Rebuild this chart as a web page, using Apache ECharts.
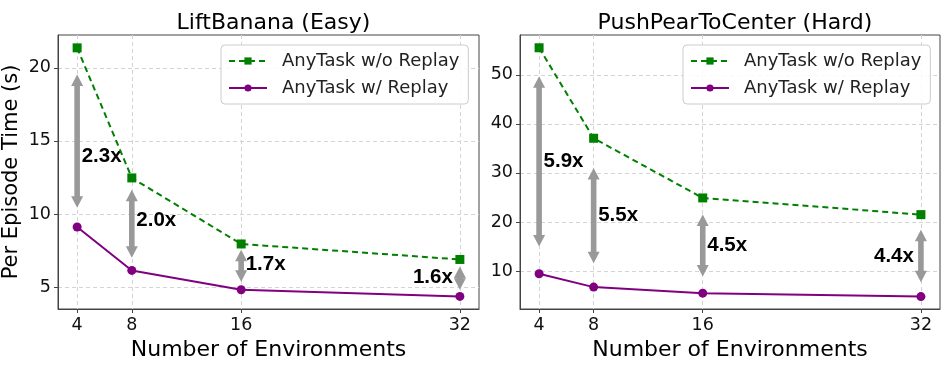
<!DOCTYPE html>
<html>
<head>
<meta charset="utf-8">
<script src="https://cdn.jsdelivr.net/npm/echarts@6/dist/echarts.min.js"></script>
<style>
  html, body { margin: 0; padding: 0; background: #fff; }
  #main { width: 947px; height: 372px; }
</style>
</head>
<body>
<div id="main"></div>
<script>
// x values
var envs = [4, 8, 16, 32];

// LiftBanana (Easy)
var easyNoReplay = [21.37, 12.47, 7.95, 6.89];
var easyReplay = [9.11, 6.14, 4.82, 4.36];
var easySpeedup = ['2.3x', '2.0x', '1.7x', '1.6x'];
var easyArrowTop = [19.54, 11.66, 7.56, 6.40];
var easyArrowBottom = [10.43, 7.01, 5.36, 4.82];
var easyLabelY = [13.92, 9.54, 6.53, 5.64];
var easyLabelSide = ['right', 'right', 'right', 'left'];

// PushPearToCenter (Hard)
var hardNoReplay = [55.5, 37.06, 24.9, 21.5];
var hardReplay = [9.45, 6.73, 5.5, 4.8];
var hardSpeedup = ['5.9x', '5.5x', '4.5x', '4.4x'];
var hardArrowTop = [49.7, 31.0, 21.5, 18.4];
var hardArrowBottom = [15.0, 11.6, 8.9, 7.7];
var hardLabelY = [32.4, 21.35, 15.3, 13.0];
var hardLabelSide = ['right', 'right', 'right', 'left'];

var easyTicks = [5, 10, 15, 20];
var hardTicks = [10, 20, 30, 40, 50];

var font = 'DejaVu Sans';
var nameNo = 'AnyTask w/o Replay';
var nameYes = 'AnyTask w/ Replay';

var myChart = echarts.init(document.getElementById('main'), null, { renderer: 'canvas' });

function pairs(ys) {
    var out = [];
    for (var i = 0; i < envs.length; i++) out.push([envs[i], ys[i]]);
    return out;
}

// gray double headed arrow + bold ratio text
function arrowSeries(idx, tops, bottoms, labels, labelY, sides) {
    var data = [];
    for (var i = 0; i < envs.length; i++) data.push([envs[i], tops[i], bottoms[i], labelY[i]]);
    return {
        type: 'custom',
        xAxisIndex: idx,
        yAxisIndex: idx,
        z: 1,
        silent: true,
        clip: false,
        data: data,
        renderItem: function(params, api) {
            var top = api.coord([api.value(0), api.value(1)]);
            var bot = api.coord([api.value(0), api.value(2)]);
            var ly = api.coord([api.value(0), api.value(3)])[1];
            var x = top[0], y1 = top[1], y2 = bot[1];
            var hw = 6, sw = 2.8, hl = 11.5;
            if (y2 - y1 < 2 * hl) hl = (y2 - y1) / 2;
            var pts = [
                [x, y1], [x + hw, y1 + hl], [x + sw, y1 + hl], [x + sw, y2 - hl],
                [x + hw, y2 - hl], [x, y2], [x - hw, y2 - hl], [x - sw, y2 - hl],
                [x - sw, y1 + hl], [x - hw, y1 + hl]
            ];
            var side = sides[params.dataIndex];
            return {
                type: 'group',
                children: [{
                    type: 'polygon',
                    shape: { points: pts },
                    style: { fill: '#999999' }
                }, {
                    type: 'text',
                    z2: 10,
                    style: {
                        text: labels[params.dataIndex],
                        x: side === 'right' ? x + 4.5 : x - 7,
                        y: ly,
                        align: side === 'right' ? 'left' : 'right',
                        verticalAlign: 'middle',
                        font: 'bold 20.5px "Liberation Sans", Arial, sans-serif',
                        fill: '#000'
                    }
                }]
            };
        }
    };
}

function xAxis(idx) {
    return {
        type: 'value',
        gridIndex: idx,
        min: 2.6,
        max: 33.4,
        name: 'Number of Environments',
        nameLocation: 'middle',
        nameGap: 27,
        nameTextStyle: { fontSize: 22, color: '#000', fontFamily: font },
        axisLine: { show: true, onZero: false, lineStyle: { color: '#444' } },
        axisTick: { show: true, customValues: envs, length: 4, lineStyle: { color: '#444' } },
        axisLabel: { customValues: envs, fontSize: 17.5, color: '#111', fontFamily: font, margin: 7 },
        splitLine: { show: true, lineStyle: { color: '#d4d4d4', type: [4, 3] } }
    };
}

function yAxis(idx, min, max, ticks, name) {
    return {
        type: 'value',
        gridIndex: idx,
        min: min,
        max: max,
        name: name,
        nameLocation: 'middle',
        nameGap: 36,
        nameTextStyle: { fontSize: 21, color: '#000', fontFamily: font },
        axisLine: { show: true, lineStyle: { color: '#444' } },
        axisTick: { show: true, customValues: ticks, length: 4, lineStyle: { color: '#444' } },
        axisLabel: { customValues: ticks, fontSize: 17.5, color: '#111', fontFamily: font, margin: 7 },
        splitLine: { show: true, lineStyle: { color: '#d4d4d4', type: [4, 3] } }
    };
}

function lineNo(idx, ys) {
    return {
        name: nameNo,
        type: 'line',
        xAxisIndex: idx,
        yAxisIndex: idx,
        z: 3,
        data: pairs(ys),
        symbol: 'rect',
        symbolSize: 9,
        lineStyle: { color: '#008000', width: 2, type: [6, 4] },
        itemStyle: { color: '#008000' }
    };
}

function lineYes(idx, ys) {
    return {
        name: nameYes,
        type: 'line',
        xAxisIndex: idx,
        yAxisIndex: idx,
        z: 3,
        data: pairs(ys),
        symbol: 'circle',
        symbolSize: 9,
        lineStyle: { color: '#800080', width: 2 },
        itemStyle: { color: '#800080' }
    };
}

function legend(left) {
    return {
        left: left,
        top: 45,
        orient: 'vertical',
        data: [nameNo, nameYes],
        itemWidth: 38,
        itemHeight: 9,
        itemGap: 9,
        padding: [7, 9, 7, 7],
        backgroundColor: 'rgba(255,255,255,0.85)',
        borderColor: '#cccccc',
        borderWidth: 1,
        borderRadius: 4,
        textStyle: { fontSize: 18, color: '#222', fontFamily: font, padding: [0, 0, 0, 10] }
    };
}

var option = {
    animation: false,
    backgroundColor: '#fff',
    title: [{
        text: 'LiftBanana (Easy)',
        left: 268.5, top: 7,
        textAlign: 'center',
        textStyle: { fontSize: 22, fontWeight: 'normal', color: '#000', fontFamily: font }
    }, {
        text: 'PushPearToCenter (Hard)',
        left: 730, top: 7,
        textAlign: 'center',
        textStyle: { fontSize: 22, fontWeight: 'normal', color: '#000', fontFamily: font }
    }],
    legend: [legend(221), legend(683)],
    grid: [
        { left: 58, top: 35, width: 421, height: 274, show: true, borderColor: '#444', borderWidth: 1, containLabel: false },
        { left: 520, top: 35, width: 420, height: 274, show: true, borderColor: '#444', borderWidth: 1, containLabel: false }
    ],
    xAxis: [xAxis(0), xAxis(1)],
    yAxis: [
        yAxis(0, 3.5, 22.25, easyTicks, 'Per Episode Time (s)'),
        yAxis(1, 2.27, 58.1, hardTicks, '')
    ],
    series: [
        arrowSeries(0, easyArrowTop, easyArrowBottom, easySpeedup, easyLabelY, easyLabelSide),
        arrowSeries(1, hardArrowTop, hardArrowBottom, hardSpeedup, hardLabelY, hardLabelSide),
        lineNo(0, easyNoReplay),
        lineYes(0, easyReplay),
        lineNo(1, hardNoReplay),
        lineYes(1, hardReplay)
    ]
};

myChart.setOption(option);
</script>
</body>
</html>
